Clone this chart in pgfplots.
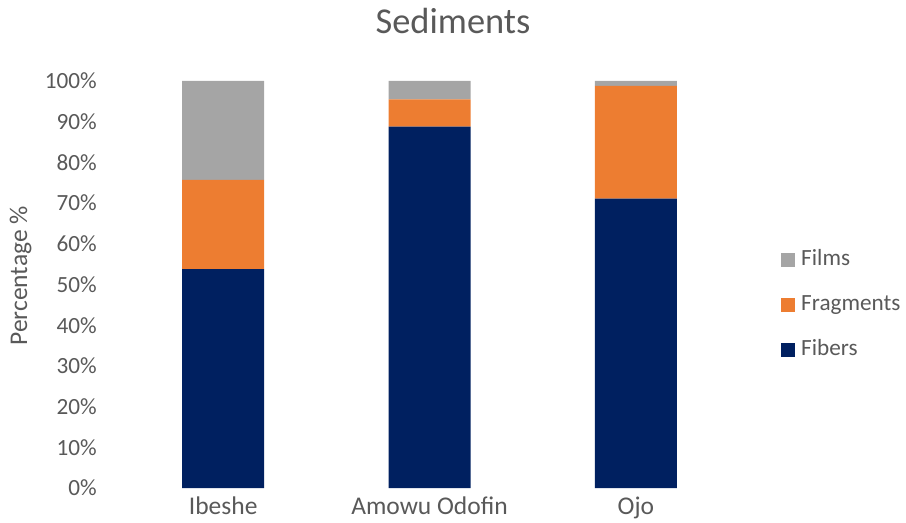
\documentclass[border=0pt]{standalone}
\usepackage{pgfplots}
\pgfplotsset{compat=1.18}
\usepackage{fontspec}
\setmainfont{Carlito}
\definecolor{txt}{HTML}{595959}
\definecolor{fib}{HTML}{002060}
\definecolor{frag}{HTML}{ED7D31}
\definecolor{film}{HTML}{A5A5A5}
\begin{document}
\begin{tikzpicture}
\begin{axis}[
    scale only axis,
    width=619pt, height=407pt,
    ybar stacked, bar width=82pt,
    xmin=-0.5, xmax=2.5,
    ymin=0, ymax=100,
    xtick={0,1,2},
    xticklabels={Ibeshe, Amowu Odofin, Ojo},
    ytick={0,10,...,100},
    yticklabel={\pgfmathprintnumber{\tick}\%},
    /pgf/number format/assume math mode=true,
    axis line style={draw=none},
    major tick length=0pt,
    xticklabel style={font=\fontsize{25.5}{28}\selectfont, text=txt, anchor=base, yshift=-26pt},
    yticklabel style={font=\fontsize{23.2}{26}\selectfont, text=txt, anchor=east, inner sep=0pt, xshift=-23pt},
    title={Sediments},
    title style={font=\fontsize{36.4}{40}\selectfont, text=txt, at={(axis description cs:0.538,1)}, anchor=base, yshift=41pt, inner sep=0pt},
    ylabel={Percentage \%},
    ylabel style={font=\fontsize{25.5}{28}\selectfont, text=txt, at={(axis description cs:-0.1502,0.521)}, anchor=base, inner sep=0pt},
    every axis plot post/.append style={legend image code/.code={\fill[##1] (0pt,-7pt) rectangle (14pt,7pt);}},
    reverse legend,
    legend style={at={(axis description cs:1.0679,0.4496)}, anchor=west, draw=none, fill=none,
        font=\fontsize{23.2}{26}\selectfont, text=txt, inner sep=0pt, row sep=23pt, column sep=6pt,
        nodes={inner sep=0pt, text height=16pt, text depth=6pt}},
    legend cell align=left,
]
\addplot[fill=fib, draw=none] coordinates {(0,53.8) (1,88.8) (2,71.1)};
\addplot[fill=frag, draw=none] coordinates {(0,21.9) (1,6.7) (2,27.7)};
\addplot[fill=film, draw=none] coordinates {(0,24.3) (1,4.5) (2,1.2)};
\legend{Fibers, Fragments, Films}
\coordinate (bl) at (rel axis cs:0,0);
\coordinate (tr) at (rel axis cs:1,1);
\end{axis}
\pgfresetboundingbox
\path ([xshift=-120pt,yshift=-34pt]bl) rectangle ([xshift=167pt,yshift=81pt]tr);
\end{tikzpicture}
\end{document}
